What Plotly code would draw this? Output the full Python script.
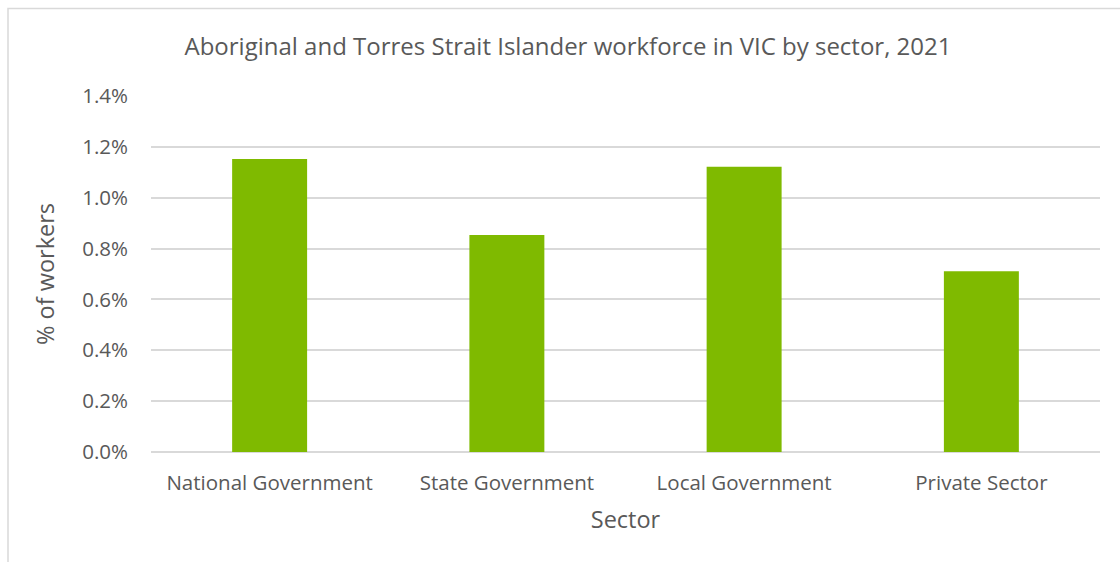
import plotly.graph_objects as go

# Share of workers who are Aboriginal and Torres Strait Islander, by sector (VIC, 2021)
sectors = ["National Government", "State Government", "Local Government", "Private Sector"]
share_pct = [1.152, 0.853, 1.122, 0.711]

y_ticks = [0.0, 0.2, 0.4, 0.6, 0.8, 1.0, 1.2, 1.4]
y_tick_labels = ["0.0%", "0.2%", "0.4%", "0.6%", "0.8%", "1.0%", "1.2%", "1.4%"]

FONT = "Open Sans"
TEXT = "#595959"
GRID = "#d9d9d9"

fig = go.Figure(
    go.Bar(
        x=sectors,
        y=share_pct,
        marker=dict(color="#7fba00", line=dict(width=0)),
        hoverinfo="x+y",
    )
)

fig.update_layout(
    width=1120,
    height=562,
    margin=dict(l=151, r=20, t=96, b=110),
    paper_bgcolor="white",
    plot_bgcolor="white",
    bargap=0.684,
    showlegend=False,
    font=dict(family=FONT, color=TEXT),
    title=dict(
        text="Aboriginal and Torres Strait Islander workforce in VIC by sector, 2021",
        x=568 / 1120,
        xref="container",
        xanchor="center",
        y=1 - 47 / 562,
        yref="container",
        yanchor="middle",
        font=dict(family=FONT, size=24, color=TEXT),
    ),
    xaxis=dict(
        title=dict(text="Sector", font=dict(size=23.5, color=TEXT), standoff=17),
        tickfont=dict(size=20.5, color=TEXT),
        showline=False,
        showgrid=False,
        ticks="",
        ticklabelstandoff=16,
    ),
    yaxis=dict(
        title=dict(text="% of workers", font=dict(size=23.5, color=TEXT), standoff=20),
        range=[0, 1.4],
        tickvals=y_ticks,
        ticktext=y_tick_labels,
        tickfont=dict(size=20.5, color=TEXT),
        showgrid=True,
        gridcolor=GRID,
        gridwidth=1.5,
        zeroline=True,
        zerolinecolor=GRID,
        zerolinewidth=1.5,
        showline=False,
        ticks="",
        ticklabelstandoff=22,
    ),
    shapes=[
        # chart frame running off the right and bottom edges
        dict(
            type="rect",
            xref="paper",
            yref="paper",
            x0=(8 - 151) / 949,
            x1=1.1,
            y0=-0.5,
            y1=(452 - 8.5) / 356,
            line=dict(color=GRID, width=1.5),
            fillcolor="rgba(0,0,0,0)",
            layer="below",
        )
    ],
)

fig.write_html("out.html")
